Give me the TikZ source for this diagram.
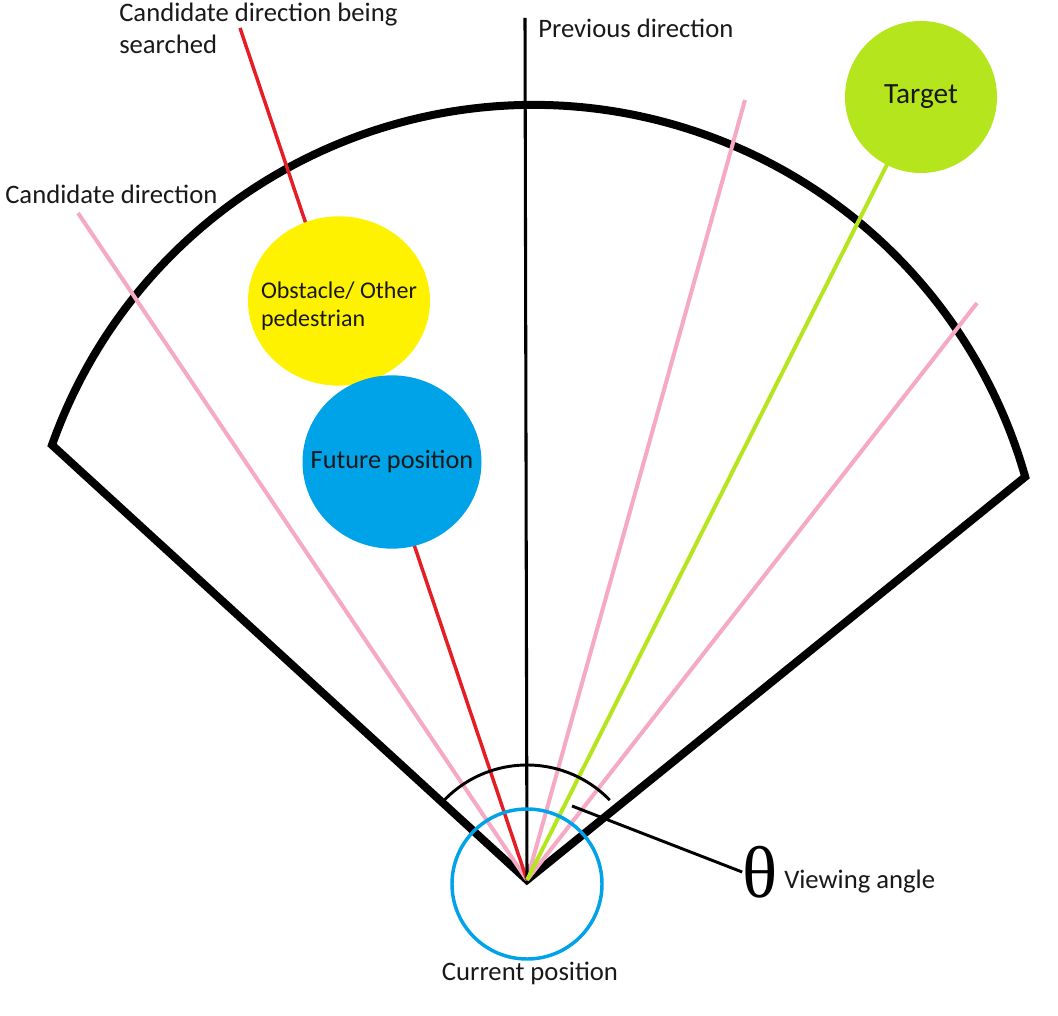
\documentclass[tikz,border=0pt]{standalone}
\usepackage{fontspec}
\setmainfont{Carlito}
\newfontfamily\thetafont{Liberation Serif}
\usetikzlibrary{shapes.geometric}
\definecolor{raypink}{HTML}{F5A9C4}
\definecolor{rayred}{HTML}{E51E25}
\definecolor{raygreen}{HTML}{B5E61D}
\definecolor{obsyellow}{HTML}{FFF200}
\definecolor{posblue}{HTML}{00A2E8}
\tikzset{
  fanstyle/.style={line width=6pt, line join=miter, black},
  pinkray/.style={line width=3pt, raypink},
  redray/.style={line width=2.6pt, rayred},
  prevray/.style={line width=2.3pt, black},
  greenray/.style={line width=3pt, raygreen},
  lbl/.style={font=\fontsize{20}{23.5}\selectfont, inner sep=0pt, text=black!90},
  blob/.style={ellipse, inner sep=0pt},
  blobtext/.style={inner sep=0pt, text=black!90}
}
\begin{document}
\begin{tikzpicture}[x=0.75pt,y=0.75pt]
\useasboundingbox (0,0) rectangle (1058,-1016);
\fill[white] (0,0) rectangle (1058,-1016);
% key points
\coordinate (apex) at (527,-880);
\coordinate (fanL) at (52,-445);
\coordinate (prevtop) at (525,-18);
\coordinate (redtop) at (240,-28);
\coordinate (pk1) at (78,-213);
\coordinate (pk2) at (745,-100);
\coordinate (pk3) at (977,-303);
\coordinate (tgtc) at (921,-97);
% fan (viewing region)
\draw[fanstyle] (apex) -- (fanL) arc[start angle=160.45, end angle=15.8, radius=511] -- cycle;
% rays
\draw[pinkray] (apex) -- (pk1);
\draw[pinkray] (apex) -- (pk2);
\draw[pinkray] (apex) -- (pk3);
\draw[redray] (apex) -- (redtop);
\draw[prevray] (apex) -- (prevtop);
\draw[greenray] (apex) -- (tgtc);
% circles
\node[blob, fill=obsyellow, minimum width=136.5pt, minimum height=127pt] (obs) at (339,-301) {};
\node[blobtext, align=left, font=\fontsize{18}{21}\selectfont] (obslbl) at (339,-306) {Obstacle/ Other\\pedestrian};
\node[blob, fill=posblue, minimum width=134.25pt, minimum height=130pt] (fut) at (392,-462) {};
\node[blobtext, font=\fontsize{19.7}{23}\selectfont] (futlbl) at (fut.center) {Future position};
\node[blob, fill=raygreen, minimum width=114pt, minimum height=114pt] (tgt) at (tgtc) {};
\node[blobtext, font=\fontsize{22}{26}\selectfont] (tgtlbl) at (tgt.center) {Target};
\node[circle, draw=posblue, line width=2.6pt, minimum size=112.5pt, inner sep=0pt] (cur) at (527,-884) {};
% viewing angle arc and leader
\draw[line width=2.2pt] ([shift={(136:115)}]apex) arc[start angle=136, end angle=44, radius=115];
\coordinate (leadA) at (572,-806);
\node[inner sep=0pt, font=\thetafont\fontsize{55}{60}\selectfont] (theta) at (760,-872) {θ};
\draw[line width=2.2pt] (leadA) -- (theta.west);
% labels
\node[lbl, anchor=north west, align=left] (cdbs) at (119,-3) {Candidate direction being\\searched};
\node[lbl, anchor=west] (prev) at (538,-28) {Previous direction};
\node[lbl, anchor=west] (cand) at (5,-194) {Candidate direction};
\node[lbl, anchor=west] (view) at (784,-882) {Viewing angle};
\node[lbl] (curlbl) at (530,-973) {Current position};
\end{tikzpicture}
\end{document}
